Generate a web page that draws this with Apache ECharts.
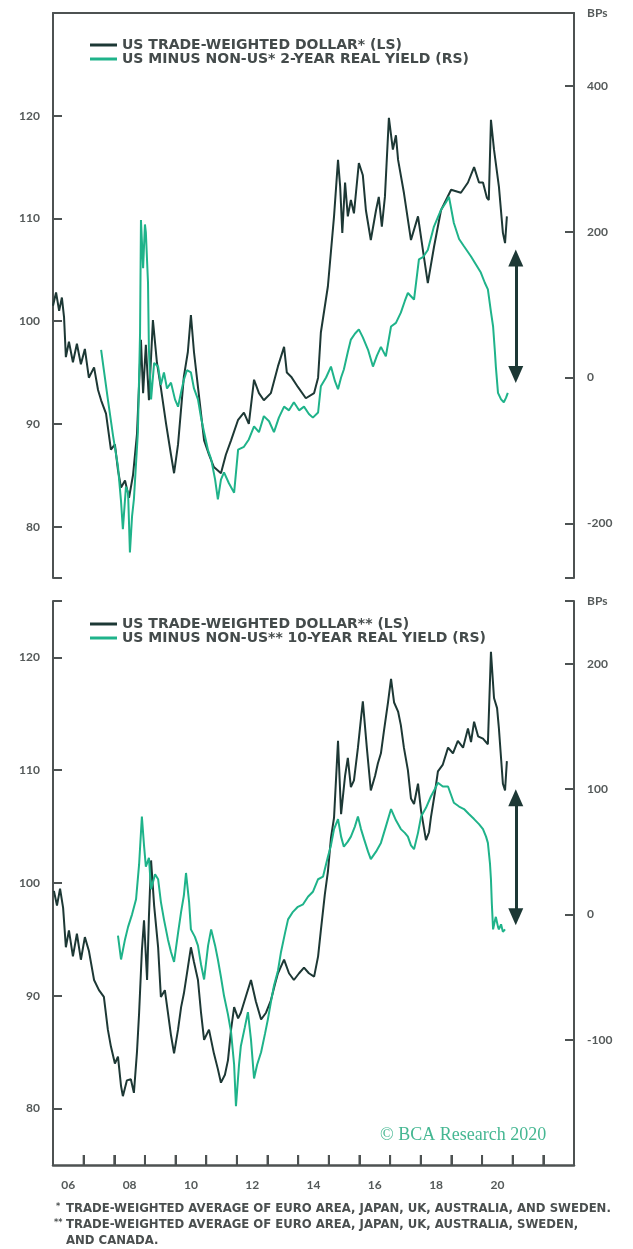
<!DOCTYPE html>
<html>
<head>
<meta charset="utf-8">
<script src="https://cdn.jsdelivr.net/npm/echarts@6/dist/echarts.min.js"></script>
<style>
html,body{margin:0;padding:0;background:#fff;}
#c{width:633px;height:1249px;}
</style>
</head>
<body>
<div id="c"></div>
<script>
// ---------- DATA (decimal years and values) ----------
const topUsdYears = [2006.00,2006.10,2006.20,2006.29,2006.36,2006.42,2006.52,2006.65,2006.78,2006.91,
2007.04,2007.17,2007.34,2007.47,2007.57,2007.73,2007.89,2008.02,2008.12,2008.22,
2008.35,2008.48,2008.61,2008.74,2008.87,2008.94,2009.03,2009.13,2009.26,2009.39,
2009.52,2009.69,2009.85,2009.95,2010.08,2010.27,2010.40,2010.50,2010.60,2010.73,
2010.93,2011.09,2011.25,2011.48,2011.64,2011.81,2012.04,2012.23,2012.39,2012.56,
2012.72,2012.88,2013.11,2013.34,2013.54,2013.63,2013.77,2013.99,2014.25,2014.52,
2014.65,2014.74,2014.97,2015.17,2015.30,2015.37,2015.44,2015.53,2015.62,2015.72,
2015.82,2015.98,2016.11,2016.21,2016.37,2016.54,2016.63,2016.73,2016.83,2016.96,
2017.09,2017.19,2017.26,2017.45,2017.68,2017.91,2018.10,2018.23,2018.43,2018.66,
2018.99,2019.31,2019.54,2019.74,2019.90,2020.03,2020.16,2020.22,2020.29,2020.39,
2020.55,2020.68,2020.75,2020.81];
const topUsdValues = [101.5,102.8,101.0,102.3,100.4,96.5,98.0,96.0,97.8,95.8,
97.3,94.5,95.5,93.3,92.3,91.0,87.5,88.0,85.5,83.8,
84.5,82.8,85.0,89.0,98.2,93.0,97.7,92.3,100.1,96.0,
93.5,90.0,87.0,85.2,88.0,94.6,97.0,100.6,97.0,93.6,
88.4,87.0,85.8,85.2,87.0,88.4,90.4,91.1,90.0,94.3,
93.0,92.3,93.0,95.6,97.5,95.0,94.6,93.6,92.5,93.0,
94.5,98.9,103.4,110.2,115.7,113.1,108.6,113.5,110.2,111.8,
110.5,115.4,114.2,110.8,107.9,110.8,112.1,109.2,112.1,119.8,
116.7,118.1,115.7,112.5,107.9,110.2,106.3,103.7,107.2,110.8,
112.8,112.5,113.5,115.0,113.5,113.5,112.0,111.8,119.6,116.7,
113.1,108.6,107.6,110.2];

const topYieldYears = [2007.57,2007.66,2007.79,2007.96,2008.12,2008.22,2008.28,2008.38,2008.45,2008.51,
2008.58,2008.64,2008.77,2008.84,2008.87,2008.94,2009.00,2009.03,2009.10,2009.13,
2009.20,2009.30,2009.43,2009.52,2009.62,2009.72,2009.85,2009.98,2010.08,2010.18,
2010.27,2010.37,2010.50,2010.60,2010.73,2010.83,2010.93,2011.06,2011.16,2011.29,
2011.38,2011.48,2011.58,2011.74,2011.91,2012.04,2012.23,2012.39,2012.56,2012.72,
2012.88,2013.05,2013.21,2013.37,2013.54,2013.70,2013.86,2014.03,2014.19,2014.35,
2014.48,2014.65,2014.74,2014.91,2015.07,2015.20,2015.30,2015.40,2015.49,2015.62,
2015.72,2015.85,2015.98,2016.11,2016.28,2016.44,2016.57,2016.70,2016.86,2017.03,
2017.19,2017.35,2017.48,2017.58,2017.78,2017.94,2018.07,2018.23,2018.43,2018.66,
2018.82,2018.92,2019.08,2019.25,2019.41,2019.64,2019.80,2019.96,2020.09,2020.19,
2020.29,2020.36,2020.42,2020.45,2020.52,2020.62,2020.71,2020.78,2020.84];
const topYieldValues = [38,10,-30,-80,-122,-170,-208,-150,-158,-240,
-190,-167,-75,60,216,150,210,199,130,38,
-30,20,15,-10,7,-15,-7,-30,-40,-20,
-3,10,7,-15,-30,-55,-75,-100,-112,-140,
-167,-140,-130,-145,-158,-99,-95,-85,-67,-75,
-53,-60,-75,-55,-40,-45,-34,-45,-40,-50,
-55,-48,-12,0,15,-5,-16,0,11,35,
52,60,66,55,38,15,30,42,29,70,
75,89,105,116,107,162,165,175,207,230,
240,248,212,190,180,166,155,144,130,121,
90,70,35,15,-21,-30,-34,-28,-21];

const botUsdYears = [2006.03,2006.13,2006.23,2006.33,2006.42,2006.52,2006.65,2006.78,2006.91,2007.04,
2007.17,2007.34,2007.50,2007.66,2007.79,2007.89,2008.02,2008.12,2008.22,2008.28,
2008.41,2008.54,2008.64,2008.74,2008.81,2008.90,2008.97,2009.07,2009.13,2009.20,
2009.30,2009.43,2009.52,2009.65,2009.75,2009.85,2009.95,2010.08,2010.18,2010.27,
2010.40,2010.50,2010.60,2010.73,2010.83,2010.93,2011.09,2011.25,2011.38,2011.48,
2011.61,2011.71,2011.81,2011.91,2012.04,2012.13,2012.30,2012.46,2012.62,2012.79,
2012.95,2013.11,2013.24,2013.34,2013.54,2013.70,2013.86,2014.03,2014.19,2014.35,
2014.52,2014.65,2014.74,2014.87,2014.97,2015.07,2015.17,2015.30,2015.40,2015.53,
2015.62,2015.72,2015.82,2015.95,2016.05,2016.11,2016.24,2016.37,2016.51,2016.60,
2016.70,2016.80,2016.93,2017.03,2017.13,2017.26,2017.35,2017.45,2017.58,2017.68,
2017.78,2017.91,2018.01,2018.17,2018.27,2018.33,2018.46,2018.56,2018.72,2018.89,
2019.05,2019.21,2019.38,2019.54,2019.64,2019.74,2019.87,2020.03,2020.19,2020.29,
2020.39,2020.49,2020.55,2020.68,2020.75,2020.81];
const botUsdValues = [99.3,98.0,99.5,97.8,94.3,95.8,93.5,95.5,93.2,95.2,
94.0,91.4,90.5,89.9,87.0,85.5,84.0,84.6,82.0,81.1,
82.5,82.6,81.4,85.0,88.5,94.0,96.7,91.4,97.0,102.0,
98.0,94.3,89.9,90.5,88.5,86.5,84.9,87.0,89.0,90.2,
92.5,94.3,93.0,91.4,88.5,86.1,87.0,84.9,83.5,82.3,
83.0,84.3,87.0,89.0,88.0,88.5,90.0,91.4,89.5,87.9,
88.5,89.6,91.0,92.0,93.2,92.0,91.4,92.0,92.5,92.0,
91.7,93.5,95.8,99.0,101.0,104.0,105.8,112.6,106.1,109.5,
111.1,108.5,109.1,112.0,114.6,116.1,112.0,108.2,109.5,110.6,
111.5,113.5,116.0,118.1,116.0,115.2,114.0,112.0,110.0,107.5,
107.0,108.8,106.4,103.8,104.5,105.8,108.0,109.9,110.5,112.0,
111.5,112.6,112.0,113.7,112.5,114.3,113.0,112.8,112.3,120.5,
116.4,115.5,113.7,108.8,108.2,110.8];

const botYieldYears = [2008.12,2008.22,2008.35,2008.45,2008.58,2008.71,2008.81,2008.90,2008.97,2009.03,
2009.13,2009.20,2009.33,2009.43,2009.52,2009.62,2009.75,2009.85,2009.95,2010.08,
2010.18,2010.27,2010.34,2010.44,2010.50,2010.63,2010.73,2010.83,2010.93,2011.06,
2011.16,2011.29,2011.38,2011.48,2011.58,2011.71,2011.81,2011.91,2011.97,2012.07,
2012.13,2012.26,2012.36,2012.46,2012.56,2012.66,2012.79,2012.92,2013.01,2013.11,
2013.21,2013.34,2013.44,2013.57,2013.67,2013.83,2013.99,2014.16,2014.32,2014.48,
2014.65,2014.81,2014.97,2015.07,2015.17,2015.30,2015.40,2015.49,2015.62,2015.72,
2015.85,2015.95,2016.05,2016.15,2016.28,2016.37,2016.54,2016.70,2016.86,2017.03,
2017.19,2017.35,2017.48,2017.58,2017.68,2017.78,2017.91,2018.01,2018.17,2018.33,
2018.46,2018.56,2018.72,2018.89,2019.08,2019.25,2019.41,2019.57,2019.74,2019.90,
2020.03,2020.13,2020.19,2020.26,2020.29,2020.32,2020.36,2020.42,2020.45,2020.52,
2020.55,2020.62,2020.68,2020.75];
const botYieldValues = [-17,-36,-20,-10,0,12,40,78,55,38,
45,20,32,28,10,-4,-20,-30,-38,-15,
2,15,33,10,-12,-18,-25,-40,-52,-25,
-12,-25,-36,-50,-65,-80,-94,-120,-153,-120,
-105,-90,-78,-100,-131,-120,-110,-95,-84,-70,
-57,-45,-30,-15,-4,2,6,8,14,18,
28,30,46,55,68,76,62,54,58,62,
70,78,68,60,50,44,50,57,70,84,
75,68,65,62,55,52,65,78,85,94,
100,105,102,102,89,86,84,80,76,72,
68,62,57,40,28,8,-12,-5,-2,-10,
-12,-8,-14,-12];

const xTickYears = [2007,2008,2009,2010,2011,2012,2013,2014,2015,2016,2017,2018,2019,2020,2021,2022];
const xLabelYears = [2006.5,2008.5,2010.5,2012.5,2014.5,2016.5,2018.5,2020.5];
const topLeftTicks = [75,80,90,100,110,120,130];
const topLeftLabels = [80,90,100,110,120];
const topRightTicks = [-275,-200,0,200,400,500];
const topRightLabels = [-200,0,200,400,500];
const botLeftTicks = [80,90,100,110,120,125];
const botLeftLabels = [80,90,100,110,120];
const botRightTicks = [-100,0,100,200,250];
const botRightLabels = [-100,0,100,200,250];

const names = {
  topUsd: 'US TRADE-WEIGHTED DOLLAR* (LS)',
  topYield: 'US MINUS NON-US* 2-YEAR REAL YIELD (RS)',
  botUsd: 'US TRADE-WEIGHTED DOLLAR** (LS)',
  botYield: 'US MINUS NON-US** 10-YEAR REAL YIELD (RS)'
};
const footnotes = [
  ['*', 'TRADE-WEIGHTED AVERAGE OF EURO AREA, JAPAN, UK, AUSTRALIA, AND SWEDEN.'],
  ['**', 'TRADE-WEIGHTED AVERAGE OF EURO AREA, JAPAN, UK, AUSTRALIA, SWEDEN,'],
  ['', 'AND CANADA.']
];

// ---------- STYLE ----------
const DARK = '#1d3835';
const TEAL = '#1fb38a';
const AXIS = '#4d5252';
const LABEL = '#555a5a';
const FONT = 'Lato, "Open Sans", sans-serif';
const WIDEFONT = '"DejaVu Sans", sans-serif';

function zip(xs, ys){ return xs.map((x,i)=>[x, ys[i]]); }

const chart = echarts.init(document.getElementById('c'), null, {renderer:'canvas'});

const grid0 = {left:53, right:59, top:13, height:565};
const grid1 = {left:53, right:59, top:601, height:564};

function yAxisCfg(grid, pos, min, max, ticks, labels, bps){
  return {
    type:'value', gridIndex:grid, position:pos, min:min, max:max,
    splitLine:{show:false},
    axisLine:{show:true, onZero:false, lineStyle:{color:AXIS, width:2}},
    axisTick:{show:true, inside:true, length:9, customValues:ticks, lineStyle:{color:AXIS, width:2}},
    axisLabel:{show:true, customValues:labels, margin:13, color:LABEL, fontSize:12, fontWeight:'bold', fontFamily:FONT,
      formatter: v => (bps && v === max) ? 'BPs' : String(v)}
  };
}

const arrowLine = (top, bottom) => ({
  silent:true, animation:false,
  symbol:['triangle','triangle'], symbolSize:[15,17],
  label:{show:false},
  lineStyle:{color:DARK, width:3, type:'solid'},
  itemStyle:{color:DARK},
  emphasis:{disabled:true},
  data:[[{coord:[2021.1, top]},{coord:[2021.1, bottom]}]]
});

const legendText = {color:'#444b4b', fontSize:14, fontWeight:'bold', fontFamily:WIDEFONT};
const footFont = 'bold 11.7px "DejaVu Sans", sans-serif';
const starFont = 'bold 8px "DejaVu Sans", sans-serif';

const textGraphics = [
  {id:'copy', type:'text', left:380, top:1126, z:100, style:{text:'\u00A9 BCA Research 2020', fill:'#45b792', font:'18px "Liberation Serif", serif'}},
  {id:'f0s', type:'text', left:56, top:1203, z:100, style:{text:footnotes[0][0], fill:'#4a4f4f', font:starFont}},
  {id:'f0', type:'text', left:66, top:1203, z:100, style:{text:footnotes[0][1], fill:'#4a4f4f', font:footFont}},
  {id:'f1s', type:'text', left:54, top:1219, z:100, style:{text:footnotes[1][0], fill:'#4a4f4f', font:starFont}},
  {id:'f1', type:'text', left:66, top:1219, z:100, style:{text:footnotes[1][1], fill:'#4a4f4f', font:footFont}},
  {id:'f2', type:'text', left:66, top:1235, z:100, style:{text:footnotes[2][1], fill:'#4a4f4f', font:footFont}}
];

const option = {
  animation:false,
  backgroundColor:'#fff',
  grid:[grid0, grid1],
  legend:[
    {data:[names.topUsd, names.topYield], left:85, top:33, orient:'vertical', itemGap:0,
     itemWidth:27, itemHeight:3, icon:'rect', textStyle:legendText},
    {data:[names.botUsd, names.botYield], left:85, top:612, orient:'vertical', itemGap:0,
     itemWidth:27, itemHeight:3, icon:'rect', textStyle:legendText}
  ],
  xAxis:[
    {type:'value', gridIndex:0, position:'top', min:2006, max:2023,
     splitLine:{show:false}, axisLine:{show:true, onZero:false, lineStyle:{color:AXIS, width:2}},
     axisTick:{show:false}, axisLabel:{show:false}},
    {type:'value', gridIndex:1, position:'bottom', min:2006, max:2023, interval:1,
     splitLine:{show:false}, axisLine:{show:true, onZero:false, lineStyle:{color:AXIS, width:2.5}},
     axisTick:{show:true, inside:true, length:10, lineStyle:{color:AXIS, width:2}},
     axisLabel:{show:true, customValues:xLabelYears, margin:14, color:LABEL, fontSize:12, fontWeight:'bold', fontFamily:FONT,
       formatter: v => String(Math.floor(v)).slice(2)}}
  ],
  yAxis:[
    yAxisCfg(0,'left',75,130,topLeftTicks,topLeftLabels,false),
    yAxisCfg(0,'right',-275,500,topRightTicks,topRightLabels,true),
    yAxisCfg(1,'left',75,125,botLeftTicks,botLeftLabels,false),
    yAxisCfg(1,'right',-200,250,botRightTicks,botRightLabels,true)
  ],
  series:[
    {name:names.topUsd, type:'line', xAxisIndex:0, yAxisIndex:0, data:zip(topUsdYears, topUsdValues),
     showSymbol:false, color:DARK, lineStyle:{color:DARK, width:2}},
    {name:names.topYield, type:'line', xAxisIndex:0, yAxisIndex:1, data:zip(topYieldYears, topYieldValues),
     showSymbol:false, color:TEAL, lineStyle:{color:TEAL, width:2}, markLine:arrowLine(164,4)},
    {name:names.botUsd, type:'line', xAxisIndex:1, yAxisIndex:2, data:zip(botUsdYears, botUsdValues),
     showSymbol:false, color:DARK, lineStyle:{color:DARK, width:2}},
    {name:names.botYield, type:'line', xAxisIndex:1, yAxisIndex:3, data:zip(botYieldYears, botYieldValues),
     showSymbol:false, color:TEAL, lineStyle:{color:TEAL, width:2}, markLine:arrowLine(93,-2)}
  ],
  graphic: textGraphics
};
chart.setOption(option);

// year ticks along the bottom axis, positioned through the axis scale
const tickGraphics = xTickYears.map((yr, i) => {
  const p = chart.convertToPixel({xAxisIndex:1, yAxisIndex:2}, [yr, 75]);
  return {id:'tick' + i, type:'line', z:100, silent:true,
    shape:{x1:p[0], y1:p[1], x2:p[0], y2:p[1] - 10},
    style:{stroke:AXIS, lineWidth:2}};
});
chart.setOption({graphic: textGraphics.concat(tickGraphics)});
</script>
</body>
</html>
